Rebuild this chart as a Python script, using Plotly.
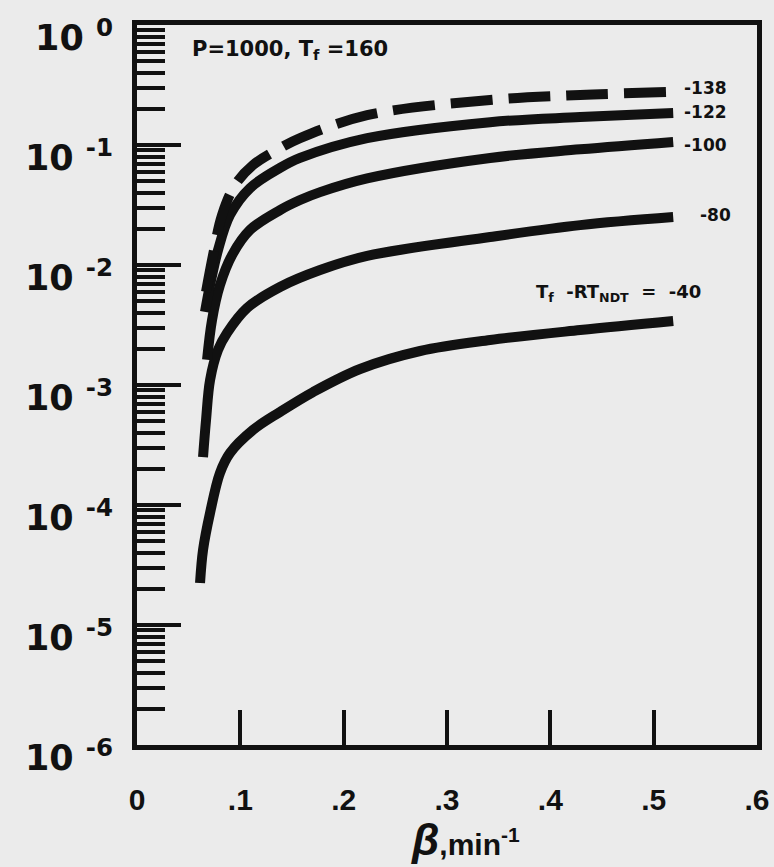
import plotly.graph_objects as go

# ---- data ----
beta_138 = [0.0668, 0.0736, 0.0823, 0.0949, 0.1123, 0.1384, 0.1578, 0.2227, 0.3417, 0.4289, 0.5189]
val_138 = [5.96e-3, 1.21e-2, 2.61e-2, 4.64e-2, 6.81e-2, 9.4e-2, 0.114, 0.177, 0.237, 0.261, 0.277]

beta_122 = [0.0658, 0.0707, 0.0784, 0.090, 0.1094, 0.1384, 0.1578, 0.2227, 0.3417, 0.4289, 0.5189]
val_122 = [4.07e-3, 6.8e-3, 1.33e-2, 2.61e-2, 4.38e-2, 6.44e-2, 7.8e-2, 0.114, 0.155, 0.171, 0.185]

beta_100 = [0.0678, 0.0726, 0.0803, 0.092, 0.1094, 0.1384, 0.1578, 0.1772, 0.2227, 0.3417, 0.4289, 0.5189]
val_100 = [1.62e-3, 3.48e-3, 6.8e-3, 1.21e-2, 1.96e-2, 2.87e-2, 3.48e-2, 4.05e-2, 5.27e-2, 7.8e-2, 9.2e-2, 0.106]

beta_80 = [0.0639, 0.0668, 0.0707, 0.0784, 0.0871, 0.1065, 0.1384, 0.1772, 0.2227, 0.3417, 0.4289, 0.5189]
val_80 = [2.51e-4, 5.1e-4, 1.1e-3, 1.96e-3, 2.71e-3, 4.38e-3, 6.56e-3, 9.08e-3, 1.19e-2, 1.71e-2, 2.15e-2, 2.51e-2]

beta_40 = [0.061, 0.0639, 0.0707, 0.0803, 0.090, 0.1123, 0.1384, 0.1704, 0.2159, 0.2740, 0.3417, 0.4289, 0.5189]
val_40 = [2.24e-5, 4.22e-5, 8.6e-5, 1.85e-4, 2.71e-4, 4.22e-4, 5.96e-4, 8.74e-4, 1.36e-3, 1.92e-3, 2.37e-3, 2.87e-3, 3.41e-3]

x_tickvals = [0, 0.1, 0.2, 0.3, 0.4, 0.5, 0.6]
x_ticktext = ["0", ".1", ".2", ".3", ".4", ".5", ".6"]
y_exponents = [0, -1, -2, -3, -4, -5, -6]

INK = "#111111"
BG = "#ebebeb"
FONT = "Liberation Sans"
WIDE = "DejaVu Sans"

fig = go.Figure()
series = [
    (beta_40, val_40, "solid"),
    (beta_80, val_80, "solid"),
    (beta_100, val_100, "solid"),
    (beta_122, val_122, "solid"),
    (beta_138, val_138, "42px,16px"),
]
for bx, by, dash in series:
    fig.add_trace(go.Scatter(
        x=bx, y=by, mode="lines",
        line=dict(color=INK, width=10, dash=dash, shape="spline", smoothing=1.0),
        showlegend=False, hoverinfo="skip",
    ))

minor_vals = [m * 10.0 ** e for e in range(-6, 0) for m in range(2, 10)]

fig.update_xaxes(
    range=[0, 0.6], tickmode="array", tickvals=x_tickvals, ticktext=x_ticktext,
    ticks="inside", ticklen=35, tickwidth=4, tickcolor=INK,
    showline=True, linewidth=5, linecolor=INK, mirror=True,
    showgrid=False, zeroline=False, automargin=False,
    tickfont=dict(family=FONT, size=30, color=INK, weight="bold"),
    ticklabelstandoff=24, ticklabeloverflow="allow",
)
fig.update_yaxes(
    type="log", range=[-6, 0], tickmode="array",
    tickvals=[10.0 ** e for e in y_exponents],
    ticktext=["10 <sup>%d</sup>" % e for e in y_exponents],
    ticks="inside", ticklen=44, tickwidth=4, tickcolor=INK,
    minor=dict(tickmode="array", tickvals=minor_vals, ticks="inside",
               ticklen=28, tickwidth=4, tickcolor=INK, showgrid=False),
    showline=True, linewidth=5, linecolor=INK, mirror=True,
    showgrid=False, zeroline=False, automargin=False,
    tickfont=dict(family=WIDE, size=35, color=INK, weight="bold"),
    ticklabelstandoff=12, ticklabelshift=13, ticklabeloverflow="allow",
)

lab_font = dict(family=WIDE, size=17, color=INK, weight="bold")
NB = "\u00a0"
annots = [
    dict(x=0.085, y=0.965, xref="paper", yref="paper", xanchor="left", yanchor="middle",
         text="P=1000," + NB + "T<sub>f</sub>" + NB + "=160",
         font=dict(family=WIDE, size=21, color=INK, weight="bold")),
    dict(x=0.527, y=-0.525, text="-138"),
    dict(x=0.527, y=-0.725, text="-122"),
    dict(x=0.527, y=-1.0, text="-100"),
    dict(x=0.543, y=-1.583, text="-80"),
    dict(x=0.384, y=-2.233,
         text="T<sub>f</sub>" + NB * 2 + "-RT<sub>NDT</sub>" + NB * 2 + "=" + NB * 2 + "-40",
         font=dict(family=WIDE, size=18, color=INK, weight="bold")),
]
for a in annots:
    base = dict(xref="x", yref="y", xanchor="left", yanchor="middle", showarrow=False, font=lab_font)
    base.update(a)
    base["showarrow"] = False
    fig.add_annotation(**base)

fig.add_annotation(
    x=0.53, y=-0.131, xref="paper", yref="paper", xanchor="center", yanchor="middle",
    showarrow=False,
    text="<span style='font-size:44px'><i>β</i></span>,min<sup>-1</sup>",
    font=dict(family=FONT, size=30, color=INK, weight="bold"),
)

fig.update_layout(
    width=774, height=867,
    margin=dict(l=137, r=17, t=25, b=122, autoexpand=False),
    paper_bgcolor=BG, plot_bgcolor=BG,
)

fig.write_html(
    "out.html",
    config={"displayModeBar": False},
    post_script="document.body.style.margin='0';document.body.style.background='#ebebeb';",
)
